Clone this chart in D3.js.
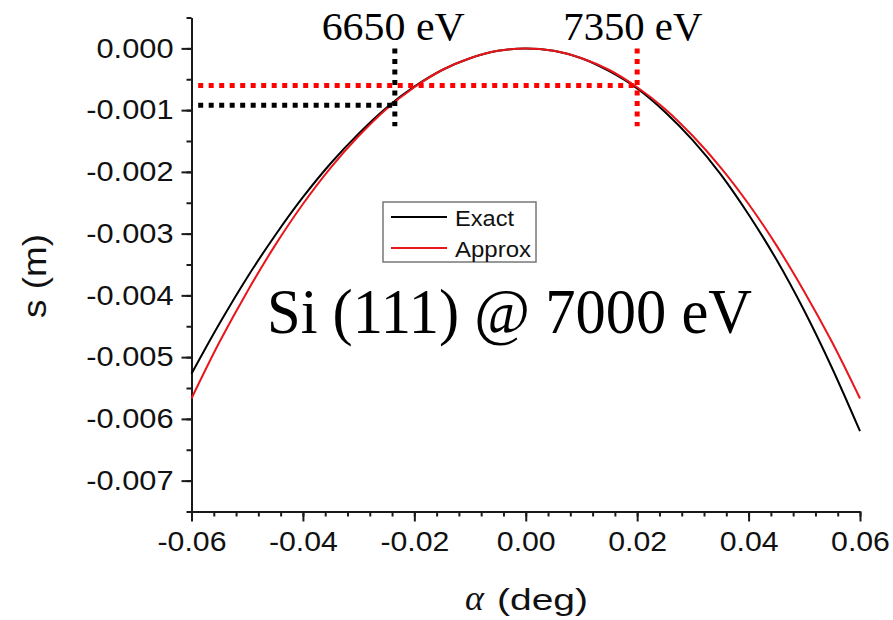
<!DOCTYPE html>
<html><head><meta charset="utf-8">
<script src="https://cdn.jsdelivr.net/npm/d3@7"></script>
<style>body{margin:0;background:#fff}svg{display:block}</style>
</head><body>
<svg id="c" width="893" height="620"></svg>
<script>
// ---- data ----
const alpha = [-0.06,-0.055,-0.05,-0.045,-0.04,-0.035,-0.03,-0.025,-0.02,-0.015,-0.01,-0.005,0,
               0.005,0.01,0.015,0.02,0.025,0.03,0.035,0.04,0.045,0.05,0.055,0.06];
const exact = [-0.00527,-0.00446,-0.00371,-0.00303,-0.00241,-0.00186,-0.00138,-0.00096,-0.00062,-0.00035,-0.00016,-0.00004,0,
               -0.00004,-0.00016,-0.00037,-0.00065,-0.00103,-0.00149,-0.00204,-0.00269,-0.00342,-0.00425,-0.00518,-0.00620];
const approx = [-0.00567,-0.00476,-0.00394,-0.00319,-0.00252,-0.00193,-0.00142,-0.00098,-0.00063,-0.00035,-0.00016,-0.00004,0,
                -0.00004,-0.00016,-0.00035,-0.00063,-0.00098,-0.00142,-0.00193,-0.00252,-0.00319,-0.00394,-0.00476,-0.00567];
const seriesNames = ["Exact", "Approx"];
const xTicks = [-0.06,-0.04,-0.02,0,0.02,0.04,0.06];
const xTickLabels = ["-0.06","-0.04","-0.02","0.00","0.02","0.04","0.06"];
const xMinor = d3.range(-15,16).map(i => i*0.004);
const yTicks = [0,-0.001,-0.002,-0.003,-0.004,-0.005,-0.006,-0.007];
const yTickLabels = ["0.000","-0.001","-0.002","-0.003","-0.004","-0.005","-0.006","-0.007"];
const yMinor = d3.range(-15,2).map(i => i*0.0005);
const energyLabels = ["6650 eV", "7350 eV"];
const energyAlpha = [-0.0235, 0.02];
const energyS = [-0.00092, -0.0006];
const markerTop = 0.0, markerBottom = -0.00126, markerLeft = -0.0588;
const title = "Si (111) @ 7000 eV";
const xTitleSym = "α", xTitleUnit = "(deg)", yTitle = "s (m)";

// ---- layout ----
const svg = d3.select("#c");
const x = d3.scaleLinear().domain([-0.06, 0.06]).range([191.5, 860]);
const y = d3.scaleLinear().domain([-0.0075, 0.0005]).range([511.5, 17.5]);
const sans = "'Liberation Sans', Arial, Helvetica, sans-serif";
const serif = "'Liberation Serif', 'Times New Roman', serif";
const axisColor = "#1a1a1a";

function stretch(sel, f) {
  sel.each(function() {
    const L = this.getComputedTextLength();
    d3.select(this).attr("textLength", L * f).attr("lengthAdjust", "spacingAndGlyphs");
  });
}
function fitTo(sel, w) { sel.attr("textLength", w).attr("lengthAdjust", "spacingAndGlyphs"); }

// minor ticks
const gxm = svg.append("g").attr("transform", `translate(0,${y.range()[0]})`)
  .call(d3.axisBottom(x).tickValues(xMinor).tickSize(5).tickFormat(""));
gxm.select(".domain").remove();
const gym = svg.append("g").attr("transform", `translate(${x.range()[0]},0)`)
  .call(d3.axisLeft(y).tickValues(yMinor).tickSize(5).tickFormat(""));
gym.select(".domain").remove();
[gxm, gym].forEach(g => g.selectAll("line").attr("stroke", axisColor).attr("stroke-width", 2));

// major axes
const gx = svg.append("g").attr("transform", `translate(0,${y.range()[0]})`)
  .call(d3.axisBottom(x).tickValues(xTicks).tickFormat((d,i)=>xTickLabels[i]).tickSize(10).tickSizeOuter(0).tickPadding(8));
const gy = svg.append("g").attr("transform", `translate(${x.range()[0]},0)`)
  .call(d3.axisLeft(y).tickValues(yTicks).tickFormat((d,i)=>yTickLabels[i]).tickSize(10).tickSizeOuter(0).tickPadding(8));
[gx, gy].forEach(g => {
  g.select(".domain").attr("stroke", axisColor).attr("stroke-width", 2);
  g.selectAll(".tick line").attr("stroke", axisColor).attr("stroke-width", 2);
  g.selectAll("text").attr("font-family", sans).attr("font-size", 27).attr("fill", "#111");
});
gx.selectAll("text").attr("dy", "0.78em");
stretch(gx.selectAll("text"), 1.12);
stretch(gy.selectAll("text"), 1.14);

// axis titles
const yt = svg.append("text").attr("transform", "translate(46,276) rotate(-90)")
  .attr("text-anchor", "middle").attr("font-family", sans).attr("font-size", 34).attr("fill", "#111").text(yTitle);
fitTo(yt, 84);
svg.append("text").attr("x", 465).attr("y", 610).attr("font-family", serif).attr("font-style", "italic")
  .attr("font-size", 36).attr("fill", "#111").text(xTitleSym);
const xu = svg.append("text").attr("x", 497).attr("y", 610).attr("font-family", sans)
  .attr("font-size", 30).attr("fill", "#111").text(xTitleUnit);
fitTo(xu, 91);

// curves
const pts = arr => alpha.map((a,i)=>[a, arr[i]]);
const line = d3.line().x(d=>x(d[0])).y(d=>y(d[1])).curve(d3.curveCatmullRom);
const colors = ["#000000", "#e8161b"];
[exact, approx].forEach((arr, k) => {
  svg.append("path").attr("d", line(pts(arr))).attr("fill", "none")
    .attr("stroke", colors[k]).attr("stroke-width", 2);
});

// dotted marker lines
const dotColors = ["#000000", "#ff0000"];
energyAlpha.forEach((a, i) => {
  const g = svg.append("g").attr("stroke", dotColors[i]).attr("stroke-width", 5)
    .attr("stroke-dasharray", "5,5.5").attr("fill", "none");
  g.append("line").attr("x1", x(markerLeft)).attr("x2", x(a)).attr("y1", y(energyS[i])).attr("y2", y(energyS[i]));
  g.append("line").attr("x1", x(a)).attr("x2", x(a)).attr("y1", y(markerTop)).attr("y2", y(markerBottom));
});

// energy labels
const eLabelX = [321.7, 563.3], eLabelW = [143, 139];
energyLabels.forEach((t, i) => {
  const e = svg.append("text").attr("x", eLabelX[i]).attr("y", 40).attr("font-family", serif)
    .attr("font-size", 40).attr("fill", "#000").text(t);
  fitTo(e, eLabelW[i]);
});

// legend
const lg = svg.append("g");
lg.append("rect").attr("x", 383).attr("y", 202).attr("width", 153).attr("height", 60)
  .attr("fill", "#fff").attr("stroke", "#777").attr("stroke-width", 1.5);
const legY = [217, 248], legW = [59, 76];
seriesNames.forEach((n, i) => {
  lg.append("line").attr("x1", 391).attr("x2", 447).attr("y1", legY[i]).attr("y2", legY[i])
    .attr("stroke", colors[i]).attr("stroke-width", 2);
  const t = lg.append("text").attr("x", 455).attr("y", legY[i] + 8.5).attr("font-family", sans)
    .attr("font-size", 22).attr("fill", "#111").text(n);
  fitTo(t, legW[i]);
});

// big title in plot
const bt = svg.append("text").attr("x", 267).attr("y", 333).attr("font-family", serif)
  .attr("font-size", 63).attr("fill", "#000").text(title);
fitTo(bt, 485);
</script>
</body></html>
